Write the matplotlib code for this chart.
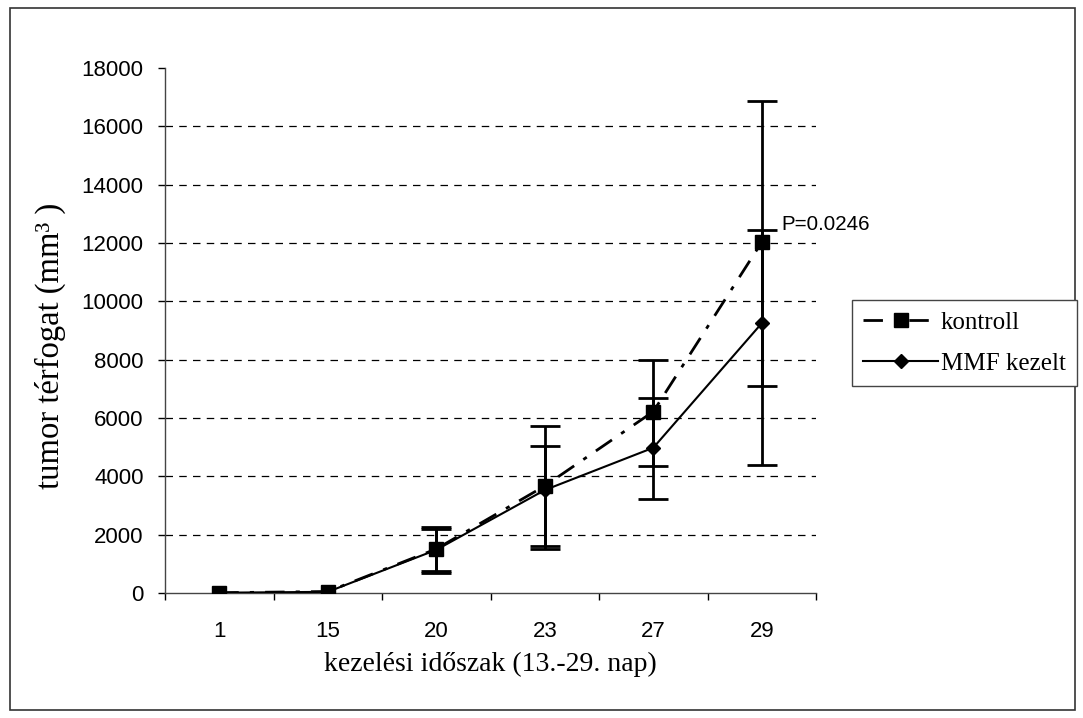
"""Tumour volume over the treatment period: control vs MMF-treated group."""

import matplotlib.pyplot as plt
import numpy as np
from matplotlib.lines import Line2D
from matplotlib.patches import Rectangle

days = ["1", "15", "20", "23", "27", "29"]

kontroll = [10, 50, 1510, 3670, 6220, 12030]
kontroll_hi = [10, 50, 2260, 5740, 8000, 16880]
kontroll_lo = [10, 50, 760, 1620, 4370, 7110]

mmf = [10, 40, 1480, 3530, 4980, 9250]
mmf_hi = [10, 40, 2200, 5050, 6700, 12450]
mmf_lo = [10, 40, 700, 1510, 3210, 4400]

SERIF = "Liberation Serif"
SANS = "Liberation Sans"


def main() -> None:
    fig = plt.figure(figsize=(10.83, 7.18), dpi=100)
    ax = fig.add_axes([0.1524, 0.1741, 0.6011, 0.7312])

    x = np.arange(1, len(days) + 1)
    k = np.array(kontroll)
    m = np.array(mmf)

    # grid lines at every tick except the top one
    for yv in range(2000, 18000, 2000):
        ax.axhline(yv, color="black", lw=0.9, ls=(0, (6, 5)), zorder=0)

    # error bars only where the spread is visible (from day 20 on)
    s = slice(2, None)
    ax.errorbar(x[s], k[s], yerr=[(k - np.array(kontroll_lo))[s], (np.array(kontroll_hi) - k)[s]],
                fmt="none", ecolor="black", elinewidth=2, capsize=11, capthick=2, zorder=2)
    ax.errorbar(x[s], m[s], yerr=[(m - np.array(mmf_lo))[s], (np.array(mmf_hi) - m)[s]],
                fmt="none", ecolor="black", elinewidth=2, capsize=11, capthick=2, zorder=2)

    ax.plot(x, k, color="black", lw=2, ls=(0, (7, 4, 1.5, 4)), marker="s",
            markersize=10.5, zorder=3)
    ax.plot(x, m, color="black", lw=1.5, ls="-", marker="D", markersize=7.5, zorder=4)

    ax.text(6.18, 12650, "P=0.0246", fontsize=14.8, family=SANS, va="center", ha="left")

    ax.set_xlim(0.5, 6.5)
    ax.set_ylim(0, 18000)
    ax.set_yticks(range(0, 18001, 2000))
    ax.set_xticks(np.arange(0.5, 6.6, 1.0))
    ax.set_xticklabels([])
    ax.set_xticks(x, minor=True)
    ax.set_xticklabels(days, minor=True)
    ax.tick_params(axis="x", which="minor", length=0, pad=20)
    ax.tick_params(axis="both", which="major", direction="out", length=5, width=1)
    ax.tick_params(axis="y", which="major", pad=10.5)
    for lab in ax.get_xticklabels(minor=True) + ax.get_yticklabels():
        lab.set_family(SANS)
        lab.set_fontsize(16)

    for side in ("top", "right"):
        ax.spines[side].set_visible(False)
    for side in ("left", "bottom"):
        ax.spines[side].set_linewidth(1)
        ax.spines[side].set_color("#444444")

    ax.set_xlabel("kezelési időszak (13.-29. nap)", family=SERIF, fontsize=20, labelpad=7)
    ax.set_ylabel("tumor térfogat (mm³ )", family=SERIF, fontsize=23.5)
    ax.yaxis.set_label_coords(-0.152, 0.47)

    handles = [
        Line2D([], [], color="black", lw=2, ls=(0, (7, 4, 1.5, 4)), marker="s", markersize=10),
        Line2D([], [], color="black", lw=1.5, ls="-", marker="D", markersize=7.5),
    ]
    leg = fig.legend(handles, ["kontroll", "MMF kezelt"], loc="upper left",
                     bbox_to_anchor=(852 / 1083, 1 - 300 / 718), prop={"family": SERIF, "size": 18},
                     fancybox=False, framealpha=1, edgecolor="#444444", borderpad=0.45,
                     handlelength=3.0, handletextpad=0.1, labelspacing=0.75, borderaxespad=0)
    leg.get_frame().set_linewidth(1)

    # outer border
    fig.patches.append(Rectangle((10 / 1083, 8 / 718), 1065 / 1083, 702 / 718,
                                 transform=fig.transFigure, fill=False,
                                 edgecolor="#333333", lw=1.2))

    fig.savefig("out.png", dpi=100)
    plt.close(fig)


if __name__ == "__main__":
    main()
